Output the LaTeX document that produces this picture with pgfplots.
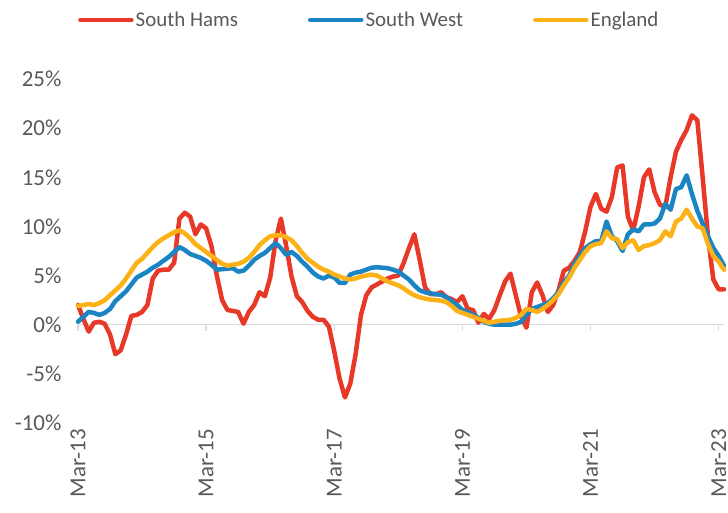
\documentclass[border=0pt]{standalone}
\usepackage{pgfplots}
\pgfplotsset{compat=1.18}
\usepackage{pgfplotstable}
\usepackage{fontspec}
\setmainfont{Carlito}
\definecolor{shred}{RGB}{232,56,40}
\definecolor{swblue}{RGB}{26,133,194}
\definecolor{enyel}{RGB}{252,178,22}
\definecolor{lblgray}{RGB}{89,89,89}
\definecolor{axgray}{RGB}{217,217,217}

\pgfplotstableread{
m sh sw en
0 2.0 0.3 1.9
1 0.6 0.8 2.0
2 -0.7 1.3 2.1
3 0.2 1.2 2.0
4 0.3 1.0 2.2
5 0.1 1.2 2.5
6 -1.0 1.6 3.0
7 -3.0 2.4 3.5
8 -2.6 2.9 4.0
9 -1.0 3.4 4.7
10 0.9 4.1 5.5
11 1.0 4.8 6.3
12 1.3 5.1 6.7
13 2.0 5.4 7.3
14 4.7 5.8 7.9
15 5.5 6.1 8.4
16 5.6 6.5 8.8
17 5.6 6.9 9.1
18 6.3 7.4 9.4
19 10.8 7.9 9.6
20 11.4 7.6 9.3
21 11.0 7.2 8.8
22 9.2 7.0 8.2
23 10.2 6.8 7.8
24 9.8 6.5 7.4
25 8.0 6.1 7.0
26 5.0 5.6 6.6
27 2.5 5.65 6.2
28 1.5 5.7 6.0
29 1.4 5.75 6.1
30 1.3 5.4 6.2
31 0.1 5.5 6.4
32 1.3 6.0 6.8
33 2.0 6.6 7.4
34 3.3 7.0 8.1
35 2.9 7.3 8.6
36 4.8 7.8 9.0
37 8.5 8.3 9.1
38 10.8 7.8 9.1
39 8.0 7.1 8.9
40 4.9 7.4 8.6
41 2.9 7.0 8.0
42 2.3 6.4 7.3
43 1.4 5.9 6.7
44 0.8 5.3 6.3
45 0.5 4.9 5.9
46 0.5 4.7 5.6
47 -0.2 5.0 5.4
48 -2.7 4.8 5.1
49 -5.5 4.25 4.9
50 -7.4 4.25 4.7
51 -6.0 5.1 4.6
52 -3.0 5.3 4.7
53 1.0 5.4 4.9
54 3.0 5.6 5.0
55 3.8 5.8 5.1
56 4.1 5.85 5.0
57 4.4 5.8 4.7
58 4.7 5.75 4.4
59 4.9 5.6 4.2
60 5.0 5.4 4.0
61 6.3 5.0 3.7
62 7.8 4.6 3.3
63 9.2 4.0 3.0
64 6.6 3.5 2.8
65 3.8 3.3 2.65
66 3.1 3.2 2.55
67 3.1 3.1 2.5
68 3.3 3.05 2.45
69 2.8 2.8 2.3
70 2.6 2.4 1.9
71 2.3 2.0 1.4
72 2.9 1.5 1.2
73 1.6 1.3 1.0
74 1.5 1.0 0.8
75 0.2 0.7 0.6
76 1.1 0.3 0.4
77 0.6 0.1 0.2
78 1.5 0.0 0.3
79 3.0 0.0 0.4
80 4.4 0.0 0.45
81 5.2 0.0 0.5
82 3.0 0.1 0.7
83 0.8 0.3 1.0
84 -0.3 1.0 1.6
85 3.3 1.6 1.5
86 4.3 1.8 1.3
87 3.0 2.0 1.6
88 1.3 2.2 2.0
89 2.0 2.7 2.5
90 3.5 3.3 3.1
91 5.5 4.3 4.0
92 5.8 5.0 4.8
93 6.5 6.2 5.8
94 7.4 7.0 6.6
95 9.5 7.8 7.4
96 12.0 8.2 8.0
97 13.3 8.5 8.2
98 11.8 8.5 8.3
99 11.5 10.5 9.5
100 13.0 9.0 8.8
101 16.0 8.5 8.7
102 16.2 7.5 7.8
103 11.0 9.2 8.4
104 9.6 9.7 8.6
105 12.0 9.5 7.6
106 15.0 10.2 8.0
107 15.8 10.2 8.1
108 13.5 10.3 8.3
109 12.2 10.8 8.6
110 12.0 12.3 9.5
111 15.0 11.7 9.0
112 17.6 13.8 10.5
113 18.8 14.0 10.8
114 19.8 15.2 11.7
115 21.3 13.3 10.8
116 20.8 11.6 10.0
117 15.0 10.3 9.8
118 9.0 9.0 8.2
119 4.6 7.8 7.0
120 3.6 7.0 6.4
121 3.6 6.0 5.6
}\datatable

\begin{document}
\begin{tikzpicture}
\begin{axis}[
  name=ax,
  scale only axis,
  width=646bp, height=344bp,
  xmin=0, xmax=121, ymin=-10, ymax=25,
  axis line style={draw=none},
  major tick length=0pt,
  xtick={0,24,48,72,96,120},
  xticklabels={Mar-13,Mar-15,Mar-17,Mar-19,Mar-21,Mar-23},
  ytick={-10,-5,0,5,10,15,20,25},
  yticklabels={-10\%,-5\%,0\%,5\%,10\%,15\%,20\%,25\%},
  tick label style={font=\fontsize{23}{26}\selectfont, text=lblgray},
  x tick label style={rotate=90, anchor=east, inner sep=6bp},
  y tick label style={anchor=east, xshift=-13bp},
  clip=false,
  legend columns=3,
  legend style={
    at={(0,1)}, anchor=west, yshift=59bp,
    draw=none, fill=none, inner sep=0pt,
    font=\fontsize{21}{24}\selectfont,
    text=lblgray,
    nodes={inner sep=2bp},
    /tikz/every even column/.append style={column sep=68bp},
  },
  legend image code/.code={\draw[#1, line width=4.5bp, line cap=round] (2bp,0bp) -- (53bp,0bp);},
  every axis plot/.append style={line width=4.5bp, line join=round, line cap=round},
]
\draw[axgray, line width=1.5bp] (axis cs:0,0) -- (axis cs:121,0);
\pgfplotsinvokeforeach{0,24,48,72,96,120}{
  \draw[axgray, line width=1.5bp] (axis cs:#1,0) -- ([yshift=-6bp]axis cs:#1,0);
}
\addplot[shred] table[x=m, y=sh] {\datatable};
\addlegendentry{South Hams}
\addplot[swblue] table[x=m, y=sw] {\datatable};
\addlegendentry{South West}
\addplot[enyel] table[x=m, y=en] {\datatable};
\addlegendentry{England}
\end{axis}
\pgfresetboundingbox
\path[use as bounding box] ([xshift=-78bp,yshift=-90bp]ax.south west) rectangle ([xshift=650bp,yshift=423bp]ax.south west);
\end{tikzpicture}
\end{document}
